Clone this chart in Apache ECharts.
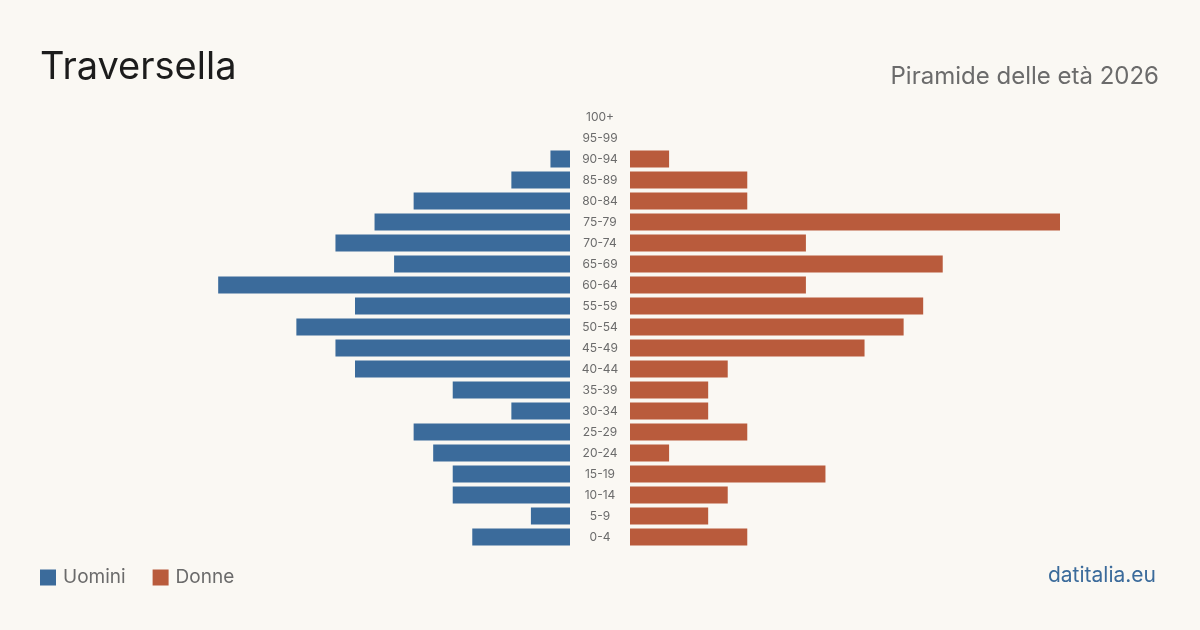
<!DOCTYPE html>
<html>
<head>
<meta charset="utf-8">
<script src="https://cdn.jsdelivr.net/npm/echarts@6/dist/echarts.min.js"></script>
<style>
  html, body { margin: 0; padding: 0; background: #faf8f3; }
  #chart { width: 1200px; height: 630px; }
</style>
</head>
<body>
<div id="chart"></div>
<script>
// age classes, bottom to top
const ageGroups = ['0-4', '5-9', '10-14', '15-19', '20-24', '25-29', '30-34', '35-39', '40-44', '45-49',
    '50-54', '55-59', '60-64', '65-69', '70-74', '75-79', '80-84', '85-89', '90-94', '95-99', '100+'];
const men = [5, 2, 6, 6, 7, 8, 3, 6, 11, 12, 14, 11, 18, 9, 12, 10, 8, 3, 1, 0, 0];
const women = [6, 4, 5, 10, 2, 6, 4, 4, 5, 12, 14, 15, 9, 16, 9, 22, 6, 6, 2, 0, 0];

const BLUE = '#3b6b9b';
const RED = '#b95b3c';
const FONT = 'Inter, "Noto Sans", sans-serif';
const maxVal = Math.max(...men, ...women);

const chart = echarts.init(document.getElementById('chart'));

const option = {
    backgroundColor: '#faf8f3',
    animation: false,
    textStyle: { fontFamily: FONT },
    title: [
        {
            text: 'Traversella', left: 35, top: 44,
            textStyle: { fontSize: 38, fontWeight: 'normal', color: '#1c1c1c', fontFamily: FONT }
        },
        {
            text: 'Piramide delle età 2026', right: 36, top: 60,
            textStyle: { fontSize: 24, fontWeight: 'normal', color: '#6b6b6b', fontFamily: FONT }
        },
        {
            text: 'datitalia.eu', right: 39, top: 560,
            textStyle: { fontSize: 21, fontWeight: 'normal', color: BLUE, fontFamily: FONT }
        }
    ],
    legend: {
        left: 40, top: 568, padding: 0,
        icon: 'rect', itemWidth: 16, itemHeight: 16, itemGap: 27,
        textStyle: { fontSize: 19, color: '#6b6b6b', fontFamily: FONT, padding: [0, 0, 0, 2] },
        data: ['Uomini', 'Donne']
    },
    grid: [
        { left: 140, width: 430, top: 106.5, height: 441 },
        { left: 630, width: 430, top: 106.5, height: 441 }
    ],
    xAxis: [
        { gridIndex: 0, type: 'value', inverse: true, min: 0, max: maxVal, show: false },
        { gridIndex: 1, type: 'value', min: 0, max: maxVal, show: false }
    ],
    yAxis: [
        {
            gridIndex: 0, type: 'category', data: ageGroups, position: 'right',
            axisLine: { show: false }, axisTick: { show: false }, axisLabel: { show: false }
        },
        {
            gridIndex: 1, type: 'category', data: ageGroups, position: 'left',
            axisLine: { show: false }, axisTick: { show: false },
            axisLabel: { align: 'center', margin: 30, fontSize: 12, color: '#6b6b6b', fontFamily: FONT }
        }
    ],
    series: [
        {
            name: 'Uomini', type: 'bar', xAxisIndex: 0, yAxisIndex: 0,
            data: men, barCategoryGap: '19%', itemStyle: { color: BLUE }
        },
        {
            name: 'Donne', type: 'bar', xAxisIndex: 1, yAxisIndex: 1,
            data: women, barCategoryGap: '19%', itemStyle: { color: RED }
        }
    ]
};

option && chart.setOption(option);
</script>
</body>
</html>
